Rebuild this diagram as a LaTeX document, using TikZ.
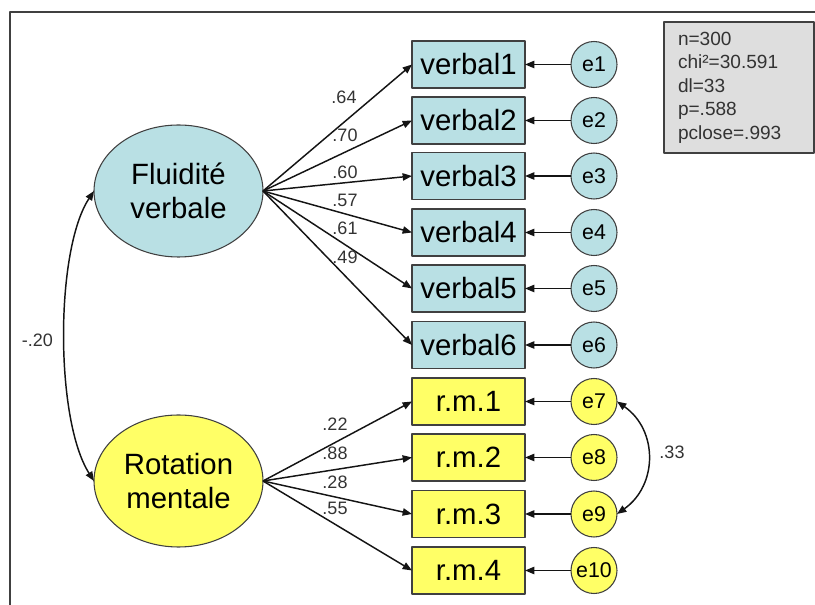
\documentclass[tikz,border=0pt]{standalone}
\usepackage{fontspec}
\setmainfont{Liberation Sans}
\usetikzlibrary{arrows.meta,shapes.geometric}
\definecolor{SemBlue}{RGB}{185,224,228}
\definecolor{SemYellow}{RGB}{255,255,102}
\definecolor{SemPanel}{gray}{0.87}
\definecolor{SemInk}{gray}{0.08}
\definecolor{SemEdge}{gray}{0.25}
\definecolor{SemText}{gray}{0.20}
\tikzset{
    sem/diagram/.style={
        x=0.75pt, y=-0.75pt,
        line join=round,
        every node/.style={inner sep=0pt, outer sep=0pt}
    },
    sem/frame/.style={draw=SemEdge, line width=0.8pt},
    sem/latent/.style={
        ellipse, draw=SemEdge, line width=0.8pt,
        minimum width=126.75pt, minimum height=99pt,
        align=center, font=\fontsize{22}{26}\selectfont
    },
    sem/observed/.style={
        rectangle, draw=SemEdge, line width=0.8pt,
        minimum width=84.75pt, minimum height=35.25pt,
        font=\fontsize{22}{24}\selectfont
    },
    sem/error/.style={
        circle, draw=SemEdge, line width=0.8pt,
        minimum size=34.5pt, font=\fontsize{16}{18}\selectfont
    },
    sem/path/.style={
        draw=SemInk, line width=1.1pt,
        -{Triangle[length=7pt, width=5.5pt]}
    },
    sem/cov/.style={
        draw=SemInk, line width=1.1pt,
        {Triangle[length=7pt, width=5.5pt]}-{Triangle[length=7pt, width=5.5pt]}
    },
    sem/weight/.style={text=SemText, font=\fontsize{13.5}{15}\selectfont},
    sem/fit/.style={
        draw=SemEdge, fill=SemPanel, line width=0.8pt,
        anchor=north west, minimum width=112.5pt, minimum height=98.25pt,
        inner xsep=10.5pt, text width=91.5pt, align=left,
        text=SemText, font=\fontsize{14.3}{17.6}\selectfont
    }
}
\begin{document}
\begin{tikzpicture}[sem/diagram]
    \useasboundingbox (0,0) rectangle (815,605);
    \draw[sem/frame] (10,605) -- (10,12) -- (815,12);

    % latent factors
    \node[sem/latent, fill=SemBlue] (fv) at (178.5,191) {Fluidité\\verbale};
    \node[sem/latent, fill=SemYellow] (rm) at (178.5,481) {Rotation\\mentale};

    % observed variables and their errors
    \node[sem/observed, fill=SemBlue] (v1) at (468.5,64.5) {verbal1};
    \node[sem/observed, fill=SemBlue] (v2) at (468.5,120.5) {verbal2};
    \node[sem/observed, fill=SemBlue] (v3) at (468.5,176) {verbal3};
    \node[sem/observed, fill=SemBlue] (v4) at (468.5,232.5) {verbal4};
    \node[sem/observed, fill=SemBlue] (v5) at (468.5,288.5) {verbal5};
    \node[sem/observed, fill=SemBlue] (v6) at (468.5,345) {verbal6};
    \node[sem/observed, fill=SemYellow] (r1) at (468.5,401.5) {r.m.1};
    \node[sem/observed, fill=SemYellow] (r2) at (468.5,457.5) {r.m.2};
    \node[sem/observed, fill=SemYellow] (r3) at (468.5,514) {r.m.3};
    \node[sem/observed, fill=SemYellow] (r4) at (468.5,570.5) {r.m.4};

    \node[sem/error, fill=SemBlue] (e1) at (594,64.5) {e1};
    \node[sem/error, fill=SemBlue] (e2) at (594,120.5) {e2};
    \node[sem/error, fill=SemBlue] (e3) at (594,176) {e3};
    \node[sem/error, fill=SemBlue] (e4) at (594,232.5) {e4};
    \node[sem/error, fill=SemBlue] (e5) at (594,288.5) {e5};
    \node[sem/error, fill=SemBlue] (e6) at (594,345) {e6};
    \node[sem/error, fill=SemYellow] (e7) at (594,401.5) {e7};
    \node[sem/error, fill=SemYellow] (e8) at (594,457.5) {e8};
    \node[sem/error, fill=SemYellow] (e9) at (594,514) {e9};
    \node[sem/error, fill=SemYellow] (e10) at (594,570.5) {e10};

    % loadings
    \draw[sem/path] (fv.east) -- (v1.west);
    \draw[sem/path] (fv.east) -- (v2.west);
    \draw[sem/path] (fv.east) -- (v3.west);
    \draw[sem/path] (fv.east) -- (v4.west);
    \draw[sem/path] (fv.east) -- (v5.west);
    \draw[sem/path] (fv.east) -- (v6.west);
    \draw[sem/path] (rm.east) -- (r1.west);
    \draw[sem/path] (rm.east) -- (r2.west);
    \draw[sem/path] (rm.east) -- (r3.west);
    \draw[sem/path] (rm.east) -- (r4.west);

    \node[sem/weight] (w1) at (344,97) {.64};
    \node[sem/weight] (w2) at (345,135) {.70};
    \node[sem/weight] (w3) at (345,172) {.60};
    \node[sem/weight] (w4) at (345,200) {.57};
    \node[sem/weight] (w5) at (345,228) {.61};
    \node[sem/weight] (w6) at (345,257) {.49};
    \node[sem/weight] (w7) at (335,424) {.22};
    \node[sem/weight] (w8) at (335,453) {.88};
    \node[sem/weight] (w9) at (335,482) {.28};
    \node[sem/weight] (w10) at (335,508) {.55};

    % residual paths
    \draw[sem/path] (e1) -- (v1);
    \draw[sem/path] (e2) -- (v2);
    \draw[sem/path] (e3) -- (v3);
    \draw[sem/path] (e4) -- (v4);
    \draw[sem/path] (e5) -- (v5);
    \draw[sem/path] (e6) -- (v6);
    \draw[sem/path] (e7) -- (r1);
    \draw[sem/path] (e8) -- (r2);
    \draw[sem/path] (e9) -- (r3);
    \draw[sem/path] (e10) -- (r4);

    % covariances
    \draw[sem/cov] (fv.west)
        .. controls (55,250) and (55,420) .. (rm.west);
    \node[sem/weight] (c1) at (37.5,340) {-.20};
    \draw[sem/cov] (e7.east)
        .. controls (658,430) and (658,485) .. (e9.east);
    \node[sem/weight] (c2) at (672,452) {.33};

    % fit indices
    \node[sem/fit] (fit) at (664,22)
        {n=300\\chi²=30.591\\dl=33\\p=.588\\pclose=.993};
\end{tikzpicture}
\end{document}
